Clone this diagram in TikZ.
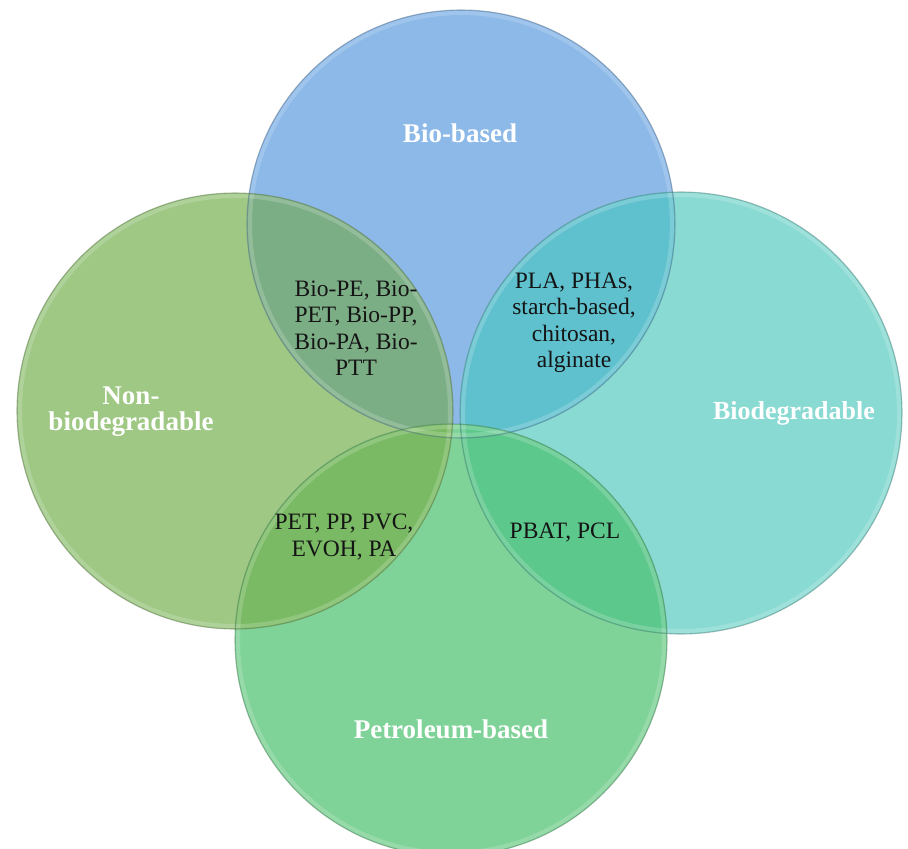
\documentclass[tikz,border=0pt]{standalone}
\usepackage{fontspec}
\setmainfont{Liberation Serif}
\definecolor{cT}{RGB}{140,185,232}
\definecolor{cL}{RGB}{158,200,132}
\definecolor{cR}{RGB}{137,218,210}
\definecolor{cB}{RGB}{128,211,152}
\definecolor{cTL}{RGB}{124,174,134}
\definecolor{cTR}{RGB}{95,193,205}
\definecolor{cLB}{RGB}{122,186,100}
\definecolor{cRB}{RGB}{92,200,140}
\tikzset{
  rim/.style={draw=#1!60!black, draw opacity=0.5, line width=1.1pt},
  glow/.style={draw=white, draw opacity=0.18, line width=4pt},
  head/.style={text=white, font=\bfseries\fontsize{27}{26}\selectfont, align=center, inner sep=0pt},
  items/.style={text=black!92, font=\fontsize{23.5}{26.5}\selectfont, align=center, inner sep=0pt}
}
\begin{document}
\begin{tikzpicture}[x=1pt,y=-1pt]
\useasboundingbox (0,0) rectangle (908,849);
\coordinate (T) at (461,224);
\coordinate (L) at (235,411);
\coordinate (R) at (681,413);
\coordinate (B) at (451,640);
% base fills
\fill[cT] (T) circle (214);
\fill[cL] (L) circle (218);
\fill[cR] (R) circle (221);
\fill[cB] (B) circle (216);
% overlaps
\begin{scope}
  \clip (T) circle (214);
  \fill[cTL] (L) circle (218);
  \fill[cTR] (R) circle (221);
\end{scope}
\begin{scope}
  \clip (B) circle (216);
  \fill[cLB] (L) circle (218);
  \fill[cRB] (R) circle (221);
\end{scope}
% inner glow
\draw[glow] (T) circle (211);
\draw[glow] (L) circle (215);
\draw[glow] (R) circle (218);
\draw[glow] (B) circle (213);
% rims
\draw[rim=cT] (T) circle (214);
\draw[rim=cL] (L) circle (218);
\draw[rim=cR] (R) circle (221);
\draw[rim=cB] (B) circle (216);
% labels
\node[head] (hbio) at (460,133) {Bio-based};
\node[head] (hnon) at (131,412) {Non-\\biodegradable};
\node[head, font=\bfseries\fontsize{26}{26}\selectfont] (hdeg) at (794,413) {Biodegradable};
\node[head] (hpet) at (451,729) {Petroleum-based};
\node[items] (iTL) at (356,328) {Bio-PE, Bio-\\PET, Bio-PP,\\Bio-PA, Bio-\\PTT};
\node[items] (iTR) at (574,323) {PLA, PHAs,\\starch-based,\\chitosan,\\alginate};
\node[items] (iLB) at (344,537) {PET, PP, PVC,\\EVOH, PA};
\node[items] (iRB) at (565,533) {PBAT, PCL};
\end{tikzpicture}
\end{document}
